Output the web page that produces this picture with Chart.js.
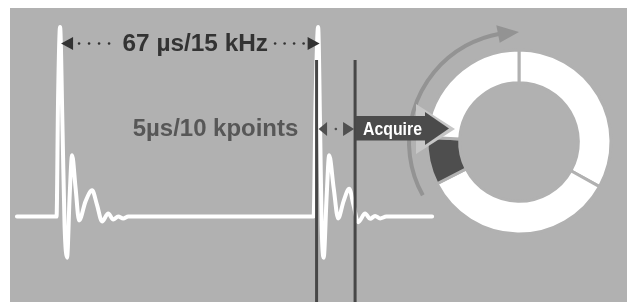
<!DOCTYPE html>
<html>
<head>
<meta charset="utf-8">
<script src="https://cdn.jsdelivr.net/npm/chart.js@4.4.0/dist/chart.umd.min.js"></script>
<style>
  body { margin: 0; background: #fff; }
  #fundo { position: absolute; left: 10px; top: 8px; width: 617px; height: 294px; background: #b1b1b1; }
  #anel { position: absolute; left: 394px; top: 17px; }
  #onda { position: absolute; left: 10px; top: 8px; }
</style>
</head>
<body>
<div id="fundo"></div>
<canvas id="anel" width="250" height="250"></canvas>
<canvas id="onda" width="617" height="294"></canvas>
<script>
// dados da forma de onda (tempo em µs, amplitude relativa)
const tempoUs = [-11.2, -0.91, -0.52, 0, 0.65, 1.17, 1.82, 2.47, 3.12, 4.03, 4.94, 6.62, 8.31, 9.61, 10.9, 12.5, 13.8, 15.1, 16.4, 17.7,
                 65.83, 66.35, 67.0, 67.53, 67.92, 68.44, 69.2, 69.87, 71.04, 72.2, 73.6, 75.06, 76.2, 77.4, 79.2, 80.5, 81.8, 83.1, 84.7, 96.6];
const amplitude = [0, 0, 0.62, 1.0, 0.45, -0.05, -0.217, 0.1, 0.323, 0.15, -0.021, 0.08, 0.138, 0.06, -0.026, 0.016, -0.016, 0, -0.01, 0,
                   0, 0.62, 1.0, 0.45, -0.05, -0.217, 0.1, 0.323, 0.15, -0.01, 0.08, 0.146, 0.06, -0.03, 0.016, -0.012, 0.003, -0.01, 0, 0];

// pulsos e janela de aquisição (µs)
const pulsosUs = [0, 67];
const janelaUs = [66.6, 76.6];

// anel de memória (graus)
const segmentos = ['A', 'B', 'Acquire', 'C'];
const segmentosGraus = [119, 124, 30, 87];
const coresSegmentos = ['#ffffff', '#ffffff', '#4e4e4e', '#ffffff'];

const CINZA = '#b1b1b1';

function textoAjustado(ctx, txt, x, yBase, largura, fonte, cor) {
  ctx.save();
  ctx.font = fonte;
  const w = ctx.measureText(txt).width;
  ctx.translate(x, yBase);
  ctx.scale(largura / w, 1);
  ctx.fillStyle = cor;
  ctx.textBaseline = 'alphabetic';
  ctx.fillText(txt, 0, 0);
  ctx.restore();
}

function poligono(ctx, pts, cor) {
  ctx.beginPath();
  ctx.moveTo(pts[0][0], pts[0][1]);
  for (let i = 1; i < pts.length; i++) ctx.lineTo(pts[i][0], pts[i][1]);
  ctx.closePath();
  ctx.fillStyle = cor;
  ctx.fill();
}

function ponto(ctx, x, y, cor) {
  ctx.beginPath();
  ctx.arc(x, y, 1.3, 0, Math.PI * 2);
  ctx.fillStyle = cor;
  ctx.fill();
}

//seta curva em volta do anel
const setaCurva = {
  id: 'setaCurva',
  afterDatasetsDraw(chart) {
    const arco = chart.getDatasetMeta(0).data[0];
    const ctx = chart.ctx;
    const cx = arco.x, cy = arco.y, r = arco.outerRadius + 18;
    const rad = g => (g - 90) * Math.PI / 180;
    const pt = (g, rr) => [cx + rr * Math.sin(g * Math.PI / 180), cy - rr * Math.cos(g * Math.PI / 180)];
    ctx.save();
    ctx.strokeStyle = '#939393';
    ctx.lineWidth = 4;
    ctx.beginPath();
    ctx.arc(cx, cy, r, rad(241), rad(350));
    ctx.stroke();
    poligono(ctx, [pt(349, r - 9), pt(349, r + 9), pt(360, r)], '#939393');
    ctx.restore();
  }
};

//anotações do gráfico de onda
const anotacoes = {
  id: 'anotacoes',
  afterDatasetsDraw(chart) {
    const ctx = chart.ctx;
    const x = chart.scales.x;
    const escuro = '#333333';
    ctx.save();

    // 67 µs / 15 kHz
    const xa = x.getPixelForValue(pulsosUs[0]) + 1;
    const xb = x.getPixelForValue(pulsosUs[1]) + 1.5;
    const ya = 35.5;
    poligono(ctx, [[xa, ya], [xa + 12, ya - 6.5], [xa + 12, ya + 6.5]], escuro);
    poligono(ctx, [[xb, ya], [xb - 12, ya - 6.5], [xb - 12, ya + 6.5]], escuro);
    [18, 28, 38, 48].forEach(d => ponto(ctx, xa + d, ya, escuro));
    [16, 25.5, 35, 44.5].forEach(d => ponto(ctx, xb - d, ya, escuro));
    textoAjustado(ctx, '67 µs/15 kHz', 112.5, 42.5, 145.5, 'bold 23px "Liberation Sans Narrow", "Liberation Sans", Arial', escuro);

    // 5µs/10 kpoints
    textoAjustado(ctx, '5µs/10 kpoints', 122.7, 128, 165.6, 'bold 23px "Liberation Sans Narrow", "Liberation Sans", Arial', '#575757');

    // janela de aquisição
    const xl = x.getPixelForValue(janelaUs[0]);
    const xr = x.getPixelForValue(janelaUs[1]);
    ctx.strokeStyle = '#474747';
    ctx.lineWidth = 3;
    ctx.beginPath();
    ctx.moveTo(xl, 52); ctx.lineTo(xl, 294);
    ctx.moveTo(xr, 52); ctx.lineTo(xr, 294);
    ctx.stroke();
    const yj = 121;
    poligono(ctx, [[xl + 2, yj], [xl + 10.5, yj - 7], [xl + 10.5, yj + 7]], '#505050');
    poligono(ctx, [[xr - 1, yj], [xr - 12, yj - 7], [xr - 12, yj + 7]], '#505050');
    ponto(ctx, (xl + xr) / 2, yj, '#505050');

    // seta Acquire
    poligono(ctx, [[406, 96], [445, 121], [406, 146]], '#c6c6c6');
    ctx.fillStyle = '#4b4b4b';
    ctx.fillRect(xr + 0.5, 108, 415 - xr - 0.5, 24.5);
    poligono(ctx, [[415, 104], [439, 120.5], [415, 137]], '#4b4b4b');
    textoAjustado(ctx, 'Acquire', 353, 127, 59, 'bold 18px "Liberation Sans Narrow", "Liberation Sans", Arial', '#ffffff');

    ctx.restore();
  }
};

const configAnel = {
  type: 'doughnut',
  data: {
    labels: segmentos,
    datasets: [{
      data: segmentosGraus,
      backgroundColor: coresSegmentos,
      borderColor: CINZA,
      borderWidth: 3
    }]
  },
  options: {
    responsive: false,
    animation: false,
    radius: 92,
    cutout: '64.5%',
    layout: { padding: 0 },
    plugins: { legend: { display: false }, tooltip: { enabled: false } }
  },
  plugins: [setaCurva]
};

var graficoAnel = new Chart(document.getElementById('anel'), configAnel);

const configOnda = {
  type: 'line',
  data: {
    datasets: [{
      label: 'sinal',
      data: tempoUs.map((t, i) => ({ x: t, y: amplitude[i] })),
      borderColor: '#ffffff',
      borderWidth: 4,
      pointRadius: 0,
      fill: false,
      cubicInterpolationMode: 'monotone',
      borderCapStyle: 'round',
      borderJoinStyle: 'round'
    }]
  },
  options: {
    responsive: false,
    animation: false,
    layout: { padding: 0 },
    scales: {
      x: { type: 'linear', min: -13, max: 147.2, display: false },
      y: { min: -0.451, max: 1.1, display: false }
    },
    plugins: { legend: { display: false }, tooltip: { enabled: false } }
  },
  plugins: [anotacoes]
};

var graficoOnda = new Chart(document.getElementById('onda'), configOnda);
</script>
</body>
</html>
